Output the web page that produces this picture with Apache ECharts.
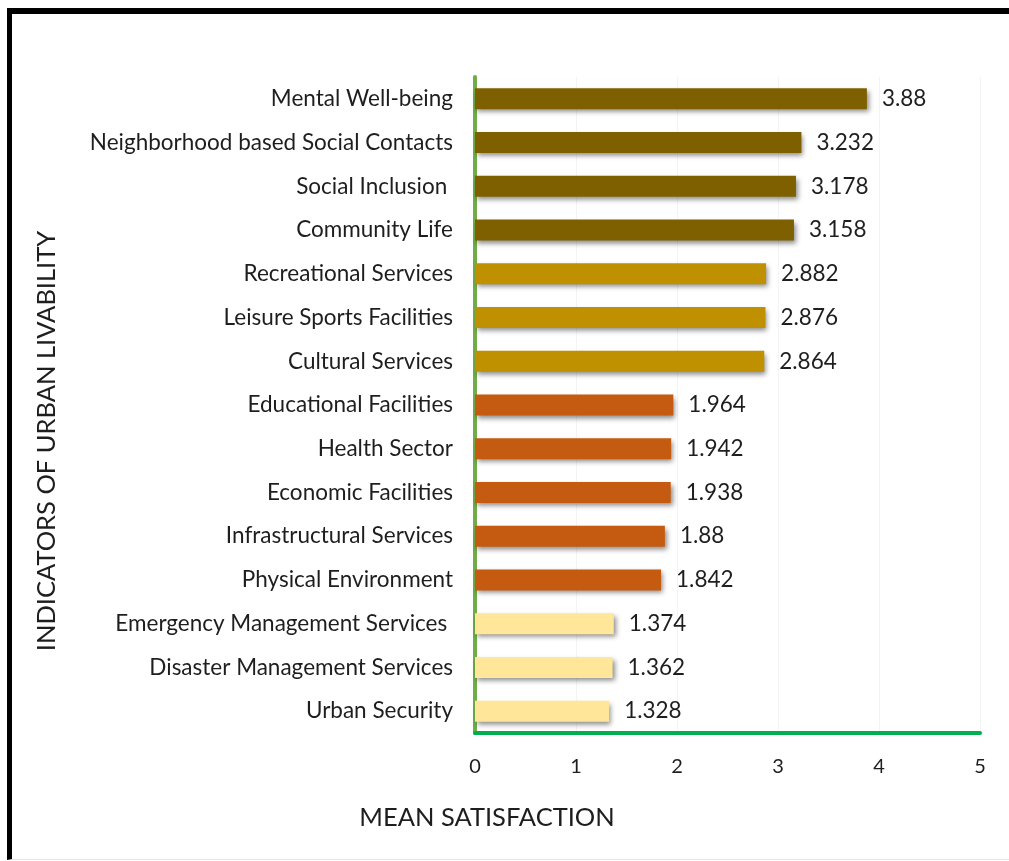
<!DOCTYPE html>
<html>
<head>
<meta charset="utf-8">
<script src="https://cdn.jsdelivr.net/npm/echarts@6/dist/echarts.min.js"></script>
<style>
  html, body { margin: 0; padding: 0; background: #fff; }
  #frame {
    position: absolute; left: 7px; top: 8px; width: 1002px; height: 852px;
    border-top: 6px solid #000; border-left: 5px solid #000;
    border-bottom: 1px solid #e6e6e6; box-sizing: border-box;
  }
  #chart { position: absolute; left: 0; top: 0; width: 1009px; height: 861px; }
</style>
</head>
<body>
<div id="frame"></div>
<div id="chart"></div>
<script>
// indicators, top to bottom as in the figure
const indicators = [
  'Mental Well-being',
  'Neighborhood based Social Contacts',
  'Social Inclusion ',
  'Community Life',
  'Recreational Services',
  'Leisure Sports Facilities',
  'Cultural Services',
  'Educational Facilities',
  'Health Sector',
  'Economic Facilities',
  'Infrastructural Services',
  'Physical Environment',
  'Emergency Management Services ',
  'Disaster Management Services',
  'Urban Security'
];
const meanSatisfaction = [3.88, 3.232, 3.178, 3.158, 2.882, 2.876, 2.864, 1.964, 1.942, 1.938, 1.88, 1.842, 1.374, 1.362, 1.328];
// colour group of each bar
const groups = [0, 0, 0, 0, 1, 1, 1, 2, 2, 2, 2, 2, 3, 3, 3];
const xTicks = [0, 1, 2, 3, 4, 5];

const palette = ['#7f6000', '#bf9000', '#c55a11', '#ffe699'];
const font = 'Lato, "Open Sans", sans-serif';
const textColor = '#1e1e1e';

const chart = echarts.init(document.getElementById('chart'), null, { renderer: 'canvas' });

const option = {
  animation: false,
  grid: { left: 475, right: 29, top: 77, bottom: 128, containLabel: false },
  xAxis: {
    type: 'value',
    min: xTicks[0],
    max: xTicks[xTicks.length - 1],
    interval: 1,
    axisLine: { show: true, lineStyle: { color: '#00b050', width: 4 } },
    axisTick: { show: false },
    axisLabel: { color: textColor, fontSize: 20, fontFamily: font, margin: 24 },
    splitLine: { show: true, lineStyle: { color: '#f4f4f4', width: 1 } }
  },
  yAxis: {
    type: 'category',
    inverse: true,
    data: indicators,
    axisLine: { show: true, lineStyle: { color: '#70ad47', width: 4 } },
    axisTick: { show: false },
    axisLabel: { color: textColor, fontSize: 22.5, fontFamily: font, margin: 22 }
  },
  series: [{
    type: 'bar',
    barWidth: 21,
    data: meanSatisfaction.map((v, i) => ({
      value: v,
      itemStyle: { color: palette[groups[i]] }
    })),
    itemStyle: {
      shadowColor: 'rgba(0,0,0,0.45)',
      shadowBlur: 5,
      shadowOffsetX: 2,
      shadowOffsetY: 3
    },
    label: {
      show: true,
      position: 'right',
      distance: 15,
      color: textColor,
      fontSize: 22.5,
      fontFamily: font
    }
  }],
  graphic: [
    {
      type: 'text',
      x: 487, y: 818,
      style: {
        text: 'MEAN SATISFACTION', fill: textColor, fontSize: 25.5, fontFamily: font,
        align: 'center', verticalAlign: 'middle'
      }
    },
    {
      type: 'text',
      x: 47, y: 441,
      rotation: Math.PI / 2,
      style: {
        text: 'INDICATORS OF URBAN LIVABILITY', fill: textColor, fontSize: 25.5,
        fontFamily: font, align: 'center', verticalAlign: 'middle'
      }
    }
  ]
};

chart.setOption(option);
</script>
</body>
</html>
